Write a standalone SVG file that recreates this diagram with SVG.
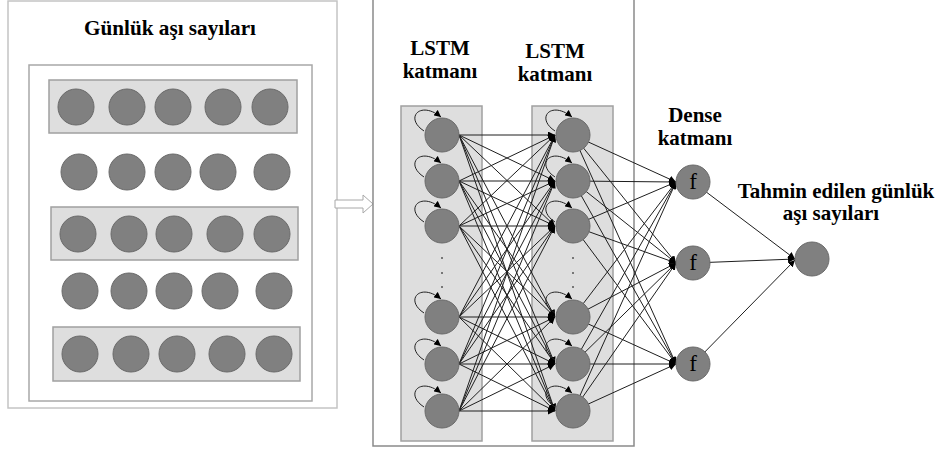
<svg xmlns="http://www.w3.org/2000/svg" width="946" height="452" viewBox="0 0 946 452">
<style>
.panel{fill:#fff;stroke:#c4c4c4;stroke-width:1.5}
.inner{fill:#fff;stroke:#a8a8a8;stroke-width:1.5}
.band{fill:#dedede;stroke:#a0a0a0;stroke-width:1.5}
.nd{fill:#808080;stroke:#6a6a6a;stroke-width:1}
.lbl{font-family:"Liberation Serif","Times New Roman",serif;font-weight:bold;font-size:21px;fill:#000;text-anchor:middle}
.fx{font-family:"Liberation Serif","Times New Roman",serif;font-size:23px;fill:#000;text-anchor:middle}
.c{stroke:#1e1e1e;stroke-width:1;fill:none}
.loop{stroke:#222;stroke-width:1;fill:none}
.dot{fill:#555}
</style>
<defs>
<marker id="ah" viewBox="0 0 8 8" refX="8" refY="4" markerWidth="7" markerHeight="7" markerUnits="userSpaceOnUse" orient="auto">
<path d="M0,0 L8,4 L0,8 z" fill="#000"/>
</marker>
</defs>
<rect width="946" height="452" fill="#fff"/>

<g id="input-panel">
<rect class="panel" x="8" y="1" width="329" height="407"/>
<text class="lbl" x="170" y="35" textLength="172" lengthAdjust="spacingAndGlyphs">Günlük aşı sayıları</text>
<rect class="inner" x="29" y="65" width="283" height="336"/>
<rect class="band" x="49" y="80" width="248" height="53"/>
<rect class="band" x="51" y="207" width="247" height="53"/>
<rect class="band" x="53" y="327" width="247" height="54"/>
<g id="row1">
<circle class="nd" cx="76" cy="107" r="18"/><circle class="nd" cx="127" cy="107" r="18"/><circle class="nd" cx="173" cy="107" r="18"/><circle class="nd" cx="223" cy="107" r="18"/><circle class="nd" cx="270" cy="107" r="18"/>
</g>
<g id="row2">
<circle class="nd" cx="79" cy="172" r="18"/><circle class="nd" cx="127" cy="172" r="18"/><circle class="nd" cx="173" cy="172" r="18"/><circle class="nd" cx="218" cy="172" r="18"/><circle class="nd" cx="272" cy="172" r="18"/>
</g>
<g id="row3">
<circle class="nd" cx="78" cy="234" r="18"/><circle class="nd" cx="129" cy="234" r="18"/><circle class="nd" cx="174" cy="234" r="18"/><circle class="nd" cx="225" cy="234" r="18"/><circle class="nd" cx="272" cy="234" r="18"/>
</g>
<g id="row4">
<circle class="nd" cx="80" cy="291" r="18"/><circle class="nd" cx="129" cy="291" r="18"/><circle class="nd" cx="174" cy="291" r="18"/><circle class="nd" cx="220" cy="291" r="18"/><circle class="nd" cx="274" cy="291" r="18"/>
</g>
<g id="row5">
<circle class="nd" cx="80" cy="354" r="18"/><circle class="nd" cx="131" cy="354" r="18"/><circle class="nd" cx="177" cy="354" r="18"/><circle class="nd" cx="227" cy="354" r="18"/><circle class="nd" cx="274" cy="354" r="18"/>
</g>
</g>

<g id="flow-arrow">
<polygon points="335,200 363,200 363,195 373,204 363,213 363,208 335,208" fill="#fff" stroke="#a8a8a8" stroke-width="1"/>
</g>

<g id="model-panel">
<rect x="373" y="-2" width="261" height="448" fill="#fff" stroke="#8a8a8a" stroke-width="1.5"/>
<rect class="band" x="401" y="106" width="81" height="335"/>
<rect class="band" x="532" y="106" width="81" height="335"/>
<text class="lbl" x="440" y="55">LSTM</text>
<text class="lbl" x="440" y="78">katmanı</text>
<text class="lbl" x="555" y="58">LSTM</text>
<text class="lbl" x="555" y="81">katmanı</text>
</g>

<g id="connectors">
<g id="l1-l2">
<line class="c" x1="459" y1="135" x2="555" y2="135" marker-end="url(#ah)"/>
<line class="c" x1="459" y1="135" x2="555" y2="181" marker-end="url(#ah)"/>
<line class="c" x1="459" y1="135" x2="555" y2="226" marker-end="url(#ah)"/>
<line class="c" x1="459" y1="135" x2="555" y2="317" marker-end="url(#ah)"/>
<line class="c" x1="459" y1="135" x2="555" y2="364" marker-end="url(#ah)"/>
<line class="c" x1="459" y1="135" x2="555" y2="411" marker-end="url(#ah)"/>
<line class="c" x1="459" y1="181" x2="555" y2="135" marker-end="url(#ah)"/>
<line class="c" x1="459" y1="181" x2="555" y2="181" marker-end="url(#ah)"/>
<line class="c" x1="459" y1="181" x2="555" y2="226" marker-end="url(#ah)"/>
<line class="c" x1="459" y1="181" x2="555" y2="317" marker-end="url(#ah)"/>
<line class="c" x1="459" y1="181" x2="555" y2="364" marker-end="url(#ah)"/>
<line class="c" x1="459" y1="181" x2="555" y2="411" marker-end="url(#ah)"/>
<line class="c" x1="459" y1="226" x2="555" y2="135" marker-end="url(#ah)"/>
<line class="c" x1="459" y1="226" x2="555" y2="181" marker-end="url(#ah)"/>
<line class="c" x1="459" y1="226" x2="555" y2="226" marker-end="url(#ah)"/>
<line class="c" x1="459" y1="226" x2="555" y2="317" marker-end="url(#ah)"/>
<line class="c" x1="459" y1="226" x2="555" y2="364" marker-end="url(#ah)"/>
<line class="c" x1="459" y1="226" x2="555" y2="411" marker-end="url(#ah)"/>
<line class="c" x1="459" y1="317" x2="555" y2="135" marker-end="url(#ah)"/>
<line class="c" x1="459" y1="317" x2="555" y2="181" marker-end="url(#ah)"/>
<line class="c" x1="459" y1="317" x2="555" y2="226" marker-end="url(#ah)"/>
<line class="c" x1="459" y1="317" x2="555" y2="317" marker-end="url(#ah)"/>
<line class="c" x1="459" y1="317" x2="555" y2="364" marker-end="url(#ah)"/>
<line class="c" x1="459" y1="317" x2="555" y2="411" marker-end="url(#ah)"/>
<line class="c" x1="459" y1="364" x2="555" y2="135" marker-end="url(#ah)"/>
<line class="c" x1="459" y1="364" x2="555" y2="181" marker-end="url(#ah)"/>
<line class="c" x1="459" y1="364" x2="555" y2="226" marker-end="url(#ah)"/>
<line class="c" x1="459" y1="364" x2="555" y2="317" marker-end="url(#ah)"/>
<line class="c" x1="459" y1="364" x2="555" y2="364" marker-end="url(#ah)"/>
<line class="c" x1="459" y1="364" x2="555" y2="411" marker-end="url(#ah)"/>
<line class="c" x1="459" y1="411" x2="555" y2="135" marker-end="url(#ah)"/>
<line class="c" x1="459" y1="411" x2="555" y2="181" marker-end="url(#ah)"/>
<line class="c" x1="459" y1="411" x2="555" y2="226" marker-end="url(#ah)"/>
<line class="c" x1="459" y1="411" x2="555" y2="317" marker-end="url(#ah)"/>
<line class="c" x1="459" y1="411" x2="555" y2="364" marker-end="url(#ah)"/>
<line class="c" x1="459" y1="411" x2="555" y2="411" marker-end="url(#ah)"/>
</g>
<g id="l2-dense">
<line class="c" x1="573" y1="135" x2="676" y2="182" marker-end="url(#ah)"/>
<line class="c" x1="573" y1="181" x2="676" y2="182" marker-end="url(#ah)"/>
<line class="c" x1="573" y1="226" x2="676" y2="182" marker-end="url(#ah)"/>
<line class="c" x1="573" y1="317" x2="676" y2="182" marker-end="url(#ah)"/>
<line class="c" x1="573" y1="364" x2="676" y2="182" marker-end="url(#ah)"/>
<line class="c" x1="573" y1="411" x2="676" y2="182" marker-end="url(#ah)"/>
<line class="c" x1="573" y1="135" x2="676" y2="263" marker-end="url(#ah)"/>
<line class="c" x1="573" y1="181" x2="676" y2="263" marker-end="url(#ah)"/>
<line class="c" x1="573" y1="226" x2="676" y2="263" marker-end="url(#ah)"/>
<line class="c" x1="573" y1="317" x2="676" y2="263" marker-end="url(#ah)"/>
<line class="c" x1="573" y1="364" x2="676" y2="263" marker-end="url(#ah)"/>
<line class="c" x1="573" y1="411" x2="676" y2="263" marker-end="url(#ah)"/>
<line class="c" x1="573" y1="135" x2="676" y2="364" marker-end="url(#ah)"/>
<line class="c" x1="573" y1="181" x2="676" y2="364" marker-end="url(#ah)"/>
<line class="c" x1="573" y1="226" x2="676" y2="364" marker-end="url(#ah)"/>
<line class="c" x1="573" y1="317" x2="676" y2="364" marker-end="url(#ah)"/>
<line class="c" x1="573" y1="364" x2="676" y2="364" marker-end="url(#ah)"/>
<line class="c" x1="573" y1="411" x2="676" y2="364" marker-end="url(#ah)"/>
</g>
<g id="dense-out">
<line class="c" x1="693" y1="182" x2="795" y2="259" marker-end="url(#ah)"/>
<line class="c" x1="693" y1="263" x2="795" y2="259" marker-end="url(#ah)"/>
<line class="c" x1="693" y1="364" x2="795" y2="260" marker-end="url(#ah)"/>
</g>
</g>

<g id="lstm1">
<circle class="nd" cx="442" cy="135" r="17"/><circle class="nd" cx="442" cy="181" r="17"/><circle class="nd" cx="442" cy="226" r="17"/>
<circle class="nd" cx="442" cy="317" r="17"/><circle class="nd" cx="442" cy="364" r="17"/><circle class="nd" cx="442" cy="411" r="17"/>
<path class="loop" marker-end="url(#ah)" d="M424,131 C404,118 420,100 441,117"/>
<path class="loop" marker-end="url(#ah)" d="M424,177 C404,164 420,146 441,163"/>
<path class="loop" marker-end="url(#ah)" d="M424,222 C404,209 420,191 441,208"/>
<path class="loop" marker-end="url(#ah)" d="M424,313 C404,300 420,282 441,299"/>
<path class="loop" marker-end="url(#ah)" d="M424,360 C404,347 420,329 441,346"/>
<path class="loop" marker-end="url(#ah)" d="M424,407 C404,394 420,376 441,393"/>
<circle class="dot" cx="442" cy="258" r="1"/><circle class="dot" cx="442" cy="273" r="1"/><circle class="dot" cx="442" cy="287" r="1"/>
</g>

<g id="lstm2">
<circle class="nd" cx="573" cy="135" r="17"/><circle class="nd" cx="573" cy="181" r="17"/><circle class="nd" cx="573" cy="226" r="17"/>
<circle class="nd" cx="573" cy="317" r="17"/><circle class="nd" cx="573" cy="364" r="17"/><circle class="nd" cx="573" cy="411" r="17"/>
<path class="loop" marker-end="url(#ah)" d="M555,131 C535,118 551,100 572,117"/>
<path class="loop" marker-end="url(#ah)" d="M555,177 C535,164 551,146 572,163"/>
<path class="loop" marker-end="url(#ah)" d="M555,222 C535,209 551,191 572,208"/>
<path class="loop" marker-end="url(#ah)" d="M555,313 C535,300 551,282 572,299"/>
<path class="loop" marker-end="url(#ah)" d="M555,360 C535,347 551,329 572,346"/>
<path class="loop" marker-end="url(#ah)" d="M555,407 C535,394 551,376 572,393"/>
<circle class="dot" cx="573" cy="258" r="1"/><circle class="dot" cx="573" cy="273" r="1"/><circle class="dot" cx="573" cy="287" r="1"/>
</g>

<g id="dense">
<text class="lbl" x="695" y="122">Dense</text>
<text class="lbl" x="695" y="145">katmanı</text>
<g id="d1"><circle class="nd" cx="693" cy="182" r="17"/><text class="fx" x="693" y="189">f</text></g>
<g id="d2"><circle class="nd" cx="693" cy="263" r="17"/><text class="fx" x="693" y="270">f</text></g>
<g id="d3"><circle class="nd" cx="693" cy="364" r="17"/><text class="fx" x="693" y="371">f</text></g>
</g>

<g id="output">
<text class="lbl" x="836" y="198">Tahmin edilen günlük</text>
<text class="lbl" x="831" y="220">aşı sayıları</text>
<circle class="nd" cx="812" cy="259" r="17"/>
</g>
</svg>
